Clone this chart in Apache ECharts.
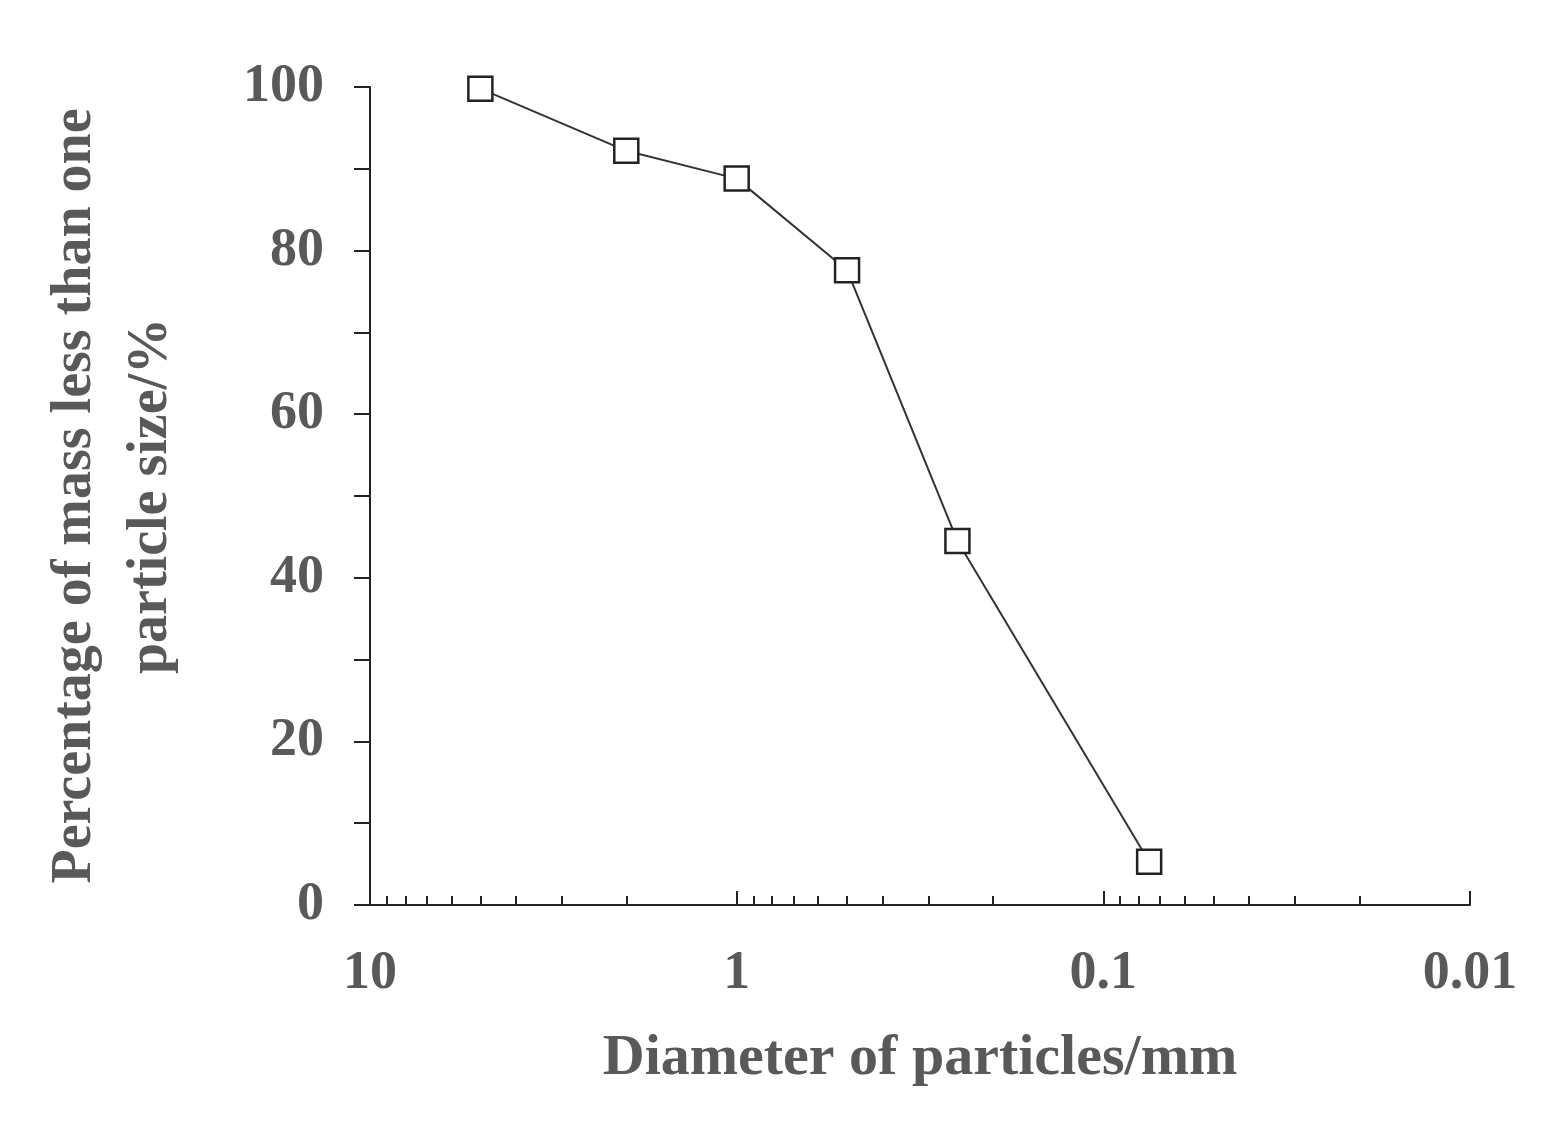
<!DOCTYPE html>
<html><head><meta charset="utf-8">
<script src="https://cdn.jsdelivr.net/npm/echarts@6/dist/echarts.min.js"></script>
<style>html,body{margin:0;background:#fff}#c{width:1557px;height:1128px}</style>
</head><body><div id="c"></div>
<script>
var diameters = [5, 2, 1, 0.5, 0.25, 0.075];
var passing = [99.8, 92.2, 88.8, 77.6, 44.5, 5.3];
var yTicks = [0, 20, 40, 60, 80, 100];

var font = {fontFamily: 'Liberation Serif', fontWeight: 'bold', color: '#595959'};
var chart = echarts.init(document.getElementById('c'));
chart.setOption({
  animation: false,
  grid: {left: 370, right: 87, top: 87, bottom: 223},
  xAxis: {
    type: 'log', logBase: 10, min: 0.01, max: 10, inverse: true,
    name: 'Diameter of particles/mm', nameLocation: 'middle', nameGap: 125,
    nameTextStyle: Object.assign({fontSize: 58}, font),
    axisLine: {lineStyle: {color: '#222', width: 2}},
    axisTick: {inside: true, length: 14, lineStyle: {color: '#222', width: 2}},
    minorTick: {show: true, splitNumber: 9, length: 9, lineStyle: {color: '#222', width: 2}},
    axisLabel: Object.assign({fontSize: 54, margin: 42, formatter: function (v) { return String(v); }}, font),
    splitLine: {show: false}
  },
  yAxis: {
    type: 'value', min: 0, max: 100, interval: 20,
    name: 'Percentage of mass less than one\nparticle size/%', nameLocation: 'middle', nameGap: 180,
    nameTextStyle: Object.assign({fontSize: 56, lineHeight: 76}, font),
    axisLine: {show: true, lineStyle: {color: '#222', width: 2}},
    axisTick: {length: 16, lineStyle: {color: '#222', width: 2}},
    minorTick: {show: true, splitNumber: 2, length: 16, lineStyle: {color: '#222', width: 2}},
    axisLabel: Object.assign({fontSize: 54, margin: 46, formatter: function (v) { return yTicks.indexOf(v) >= 0 ? v : ''; }}, font),
    splitLine: {show: false}
  },
  series: [{
    type: 'line',
    data: diameters.map(function (d, i) { return [d, passing[i]]; }),
    symbol: 'rect', symbolSize: 24,
    lineStyle: {color: '#333', width: 2},
    itemStyle: {color: '#fff', borderColor: '#222', borderWidth: 2.5}
  }]
});
</script></body></html>
